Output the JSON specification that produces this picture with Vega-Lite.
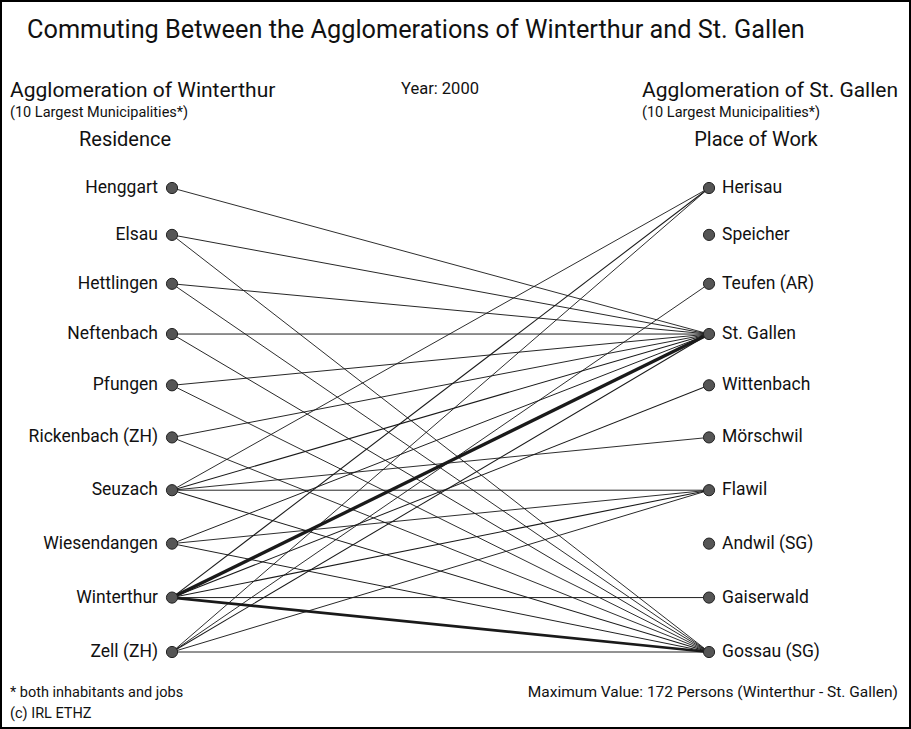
{
  "$schema": "https://vega.github.io/schema/vega-lite/v6.json",
  "width": 911,
  "height": 729,
  "padding": 0,
  "autosize": "none",
  "background": "white",
  "config": {"view": {"stroke": "black", "strokeWidth": 4}, "font": "Roboto"},
  "resolve": {"scale": {"y": "independent"}},
  "datasets": {
    "nodes": [
      {"name": "Henggart", "side": 0, "rank": 1},
      {"name": "Elsau", "side": 0, "rank": 2},
      {"name": "Hettlingen", "side": 0, "rank": 3},
      {"name": "Neftenbach", "side": 0, "rank": 4},
      {"name": "Pfungen", "side": 0, "rank": 5},
      {"name": "Rickenbach (ZH)", "side": 0, "rank": 6},
      {"name": "Seuzach", "side": 0, "rank": 7},
      {"name": "Wiesendangen", "side": 0, "rank": 8},
      {"name": "Winterthur", "side": 0, "rank": 9},
      {"name": "Zell (ZH)", "side": 0, "rank": 10},
      {"name": "Herisau", "side": 1, "rank": 1},
      {"name": "Speicher", "side": 1, "rank": 2},
      {"name": "Teufen (AR)", "side": 1, "rank": 3},
      {"name": "St. Gallen", "side": 1, "rank": 4},
      {"name": "Wittenbach", "side": 1, "rank": 5},
      {"name": "Mörschwil", "side": 1, "rank": 6},
      {"name": "Flawil", "side": 1, "rank": 7},
      {"name": "Andwil (SG)", "side": 1, "rank": 8},
      {"name": "Gaiserwald", "side": 1, "rank": 9},
      {"name": "Gossau (SG)", "side": 1, "rank": 10}
    ],
    "links": [
      {"from": "Henggart", "to": "St. Gallen", "persons": 8},
      {"from": "Elsau", "to": "St. Gallen", "persons": 10},
      {"from": "Elsau", "to": "Gossau (SG)", "persons": 8},
      {"from": "Hettlingen", "to": "St. Gallen", "persons": 10},
      {"from": "Hettlingen", "to": "Gossau (SG)", "persons": 8},
      {"from": "Neftenbach", "to": "St. Gallen", "persons": 12},
      {"from": "Neftenbach", "to": "Gossau (SG)", "persons": 10},
      {"from": "Pfungen", "to": "St. Gallen", "persons": 10},
      {"from": "Pfungen", "to": "Gossau (SG)", "persons": 8},
      {"from": "Rickenbach (ZH)", "to": "St. Gallen", "persons": 10},
      {"from": "Rickenbach (ZH)", "to": "Gossau (SG)", "persons": 8},
      {"from": "Seuzach", "to": "Herisau", "persons": 8},
      {"from": "Seuzach", "to": "St. Gallen", "persons": 20},
      {"from": "Seuzach", "to": "Mörschwil", "persons": 8},
      {"from": "Seuzach", "to": "Flawil", "persons": 10},
      {"from": "Seuzach", "to": "Gossau (SG)", "persons": 15},
      {"from": "Wiesendangen", "to": "St. Gallen", "persons": 12},
      {"from": "Wiesendangen", "to": "Flawil", "persons": 8},
      {"from": "Wiesendangen", "to": "Gossau (SG)", "persons": 12},
      {"from": "Winterthur", "to": "Herisau", "persons": 18},
      {"from": "Winterthur", "to": "St. Gallen", "persons": 172},
      {"from": "Winterthur", "to": "Wittenbach", "persons": 14},
      {"from": "Winterthur", "to": "Flawil", "persons": 22},
      {"from": "Winterthur", "to": "Gaiserwald", "persons": 12},
      {"from": "Winterthur", "to": "Gossau (SG)", "persons": 130},
      {"from": "Zell (ZH)", "to": "Herisau", "persons": 8},
      {"from": "Zell (ZH)", "to": "Teufen (AR)", "persons": 8},
      {"from": "Zell (ZH)", "to": "St. Gallen", "persons": 15},
      {"from": "Zell (ZH)", "to": "Flawil", "persons": 10},
      {"from": "Zell (ZH)", "to": "Gossau (SG)", "persons": 10}
    ]
  },
  "layer": [
    {
      "data": {"name": "links"},
      "transform": [
        {"lookup": "from", "from": {"data": {"name": "nodes"}, "key": "name", "fields": ["rank"]}, "as": ["r1"]},
        {"lookup": "to", "from": {"data": {"name": "nodes"}, "key": "name", "fields": ["rank"]}, "as": ["r2"]}
      ],
      "mark": {"type": "rule", "color": "#1a1a1a"},
      "encoding": {
        "x": {"datum": 0, "type": "quantitative", "scale": {"domain": [-0.3203, 1.3761], "nice": false, "zero": false}, "axis": null},
        "x2": {"datum": 1},
        "y": {"field": "r1", "type": "quantitative", "scale": {"type": "pow", "exponent": 1.08, "domain": [-3.161, 11.401], "reverse": true, "nice": false, "zero": false}, "axis": null},
        "y2": {"field": "r2"},
        "strokeWidth": {"field": "persons", "type": "quantitative", "scale": {"domain": [0, 172], "range": [0.8, 3.3]}, "legend": null}
      }
    },
    {
      "data": {"name": "nodes"},
      "layer": [
        {
          "mark": {"type": "point", "filled": true, "size": 125, "color": "#555", "stroke": "#222", "strokeWidth": 1, "opacity": 1},
          "encoding": {
            "x": {"field": "side", "type": "quantitative"},
            "y": {"field": "rank", "type": "quantitative"}
          }
        },
        {
          "transform": [{"filter": "datum.side == 0"}],
          "mark": {"type": "text", "align": "right", "baseline": "middle", "dx": -14, "fontSize": 17.5, "color": "#111"},
          "encoding": {
            "x": {"field": "side", "type": "quantitative"},
            "y": {"field": "rank", "type": "quantitative"},
            "text": {"field": "name"}
          }
        },
        {
          "transform": [{"filter": "datum.side == 1"}],
          "mark": {"type": "text", "align": "left", "baseline": "middle", "dx": 13, "fontSize": 17.5, "color": "#111"},
          "encoding": {
            "x": {"field": "side", "type": "quantitative"},
            "y": {"field": "rank", "type": "quantitative"},
            "text": {"field": "name"}
          }
        }
      ],
      "encoding": {
        "y": {"field": "rank", "type": "quantitative", "scale": {"type": "pow", "exponent": 1.08, "domain": [-3.161, 11.401], "reverse": true, "nice": false, "zero": false}, "axis": null}
      },
      "resolve": {"scale": {"y": "shared"}}
    },
    {
      "layer": [
        {
          "data": {"values": [{"t": "Commuting Between the Agglomerations of Winterthur and St. Gallen"}]},
          "mark": {"type": "text", "align": "left", "baseline": "alphabetic", "fontSize": 25.3, "color": "#111"},
          "encoding": {"x": {"datum": -0.27}, "y": {"datum": -1.91}, "text": {"field": "t"}}
        },
        {
          "data": {"values": [{"t": "Agglomeration of Winterthur", "p": -0.3017}, {"t": "Agglomeration of St. Gallen", "p": 0.8752}]},
          "mark": {"type": "text", "align": "left", "baseline": "alphabetic", "fontSize": 21, "color": "#111"},
          "encoding": {"x": {"field": "p", "type": "quantitative"}, "y": {"datum": -0.765}, "text": {"field": "t"}}
        },
        {
          "data": {"values": [{"t": "(10 Largest Municipalities*)", "p": -0.3017}, {"t": "(10 Largest Municipalities*)", "p": 0.8752}]},
          "mark": {"type": "text", "align": "left", "baseline": "alphabetic", "fontSize": 14.5, "color": "#111"},
          "encoding": {"x": {"field": "p", "type": "quantitative"}, "y": {"datum": -0.378}, "text": {"field": "t"}}
        },
        {
          "data": {"values": [{"t": "Residence", "p": -0.0875}, {"t": "Place of Work", "p": 1.0874}]},
          "mark": {"type": "text", "align": "center", "baseline": "alphabetic", "fontSize": 20, "color": "#111"},
          "encoding": {"x": {"field": "p", "type": "quantitative"}, "y": {"datum": 0.185}, "text": {"field": "t"}}
        },
        {
          "data": {"values": [{"t": "Year: 2000"}]},
          "mark": {"type": "text", "align": "center", "baseline": "alphabetic", "fontSize": 16.5, "color": "#111"},
          "encoding": {"x": {"datum": 0.499}, "y": {"datum": -0.824}, "text": {"field": "t"}}
        },
        {
          "data": {"values": [{"t": "* both inhabitants and jobs", "r": 10.873}, {"t": "(c) IRL ETHZ", "r": 11.28}]},
          "mark": {"type": "text", "align": "left", "baseline": "alphabetic", "fontSize": 14.5, "color": "#111"},
          "encoding": {"x": {"datum": -0.3017}, "y": {"field": "r", "type": "quantitative"}, "text": {"field": "t"}}
        },
        {
          "data": {"values": [{"t": "Maximum Value: 172 Persons (Winterthur - St. Gallen)"}]},
          "mark": {"type": "text", "align": "right", "baseline": "alphabetic", "fontSize": 15.5, "color": "#111"},
          "encoding": {"x": {"datum": 1.3519}, "y": {"datum": 10.873}, "text": {"field": "t"}}
        }
      ],
      "encoding": {
        "y": {"type": "quantitative", "scale": {"domain": [-2.647, 11.493], "reverse": true, "nice": false, "zero": false}, "axis": null}
      },
      "resolve": {"scale": {"y": "shared"}}
    }
  ]
}
